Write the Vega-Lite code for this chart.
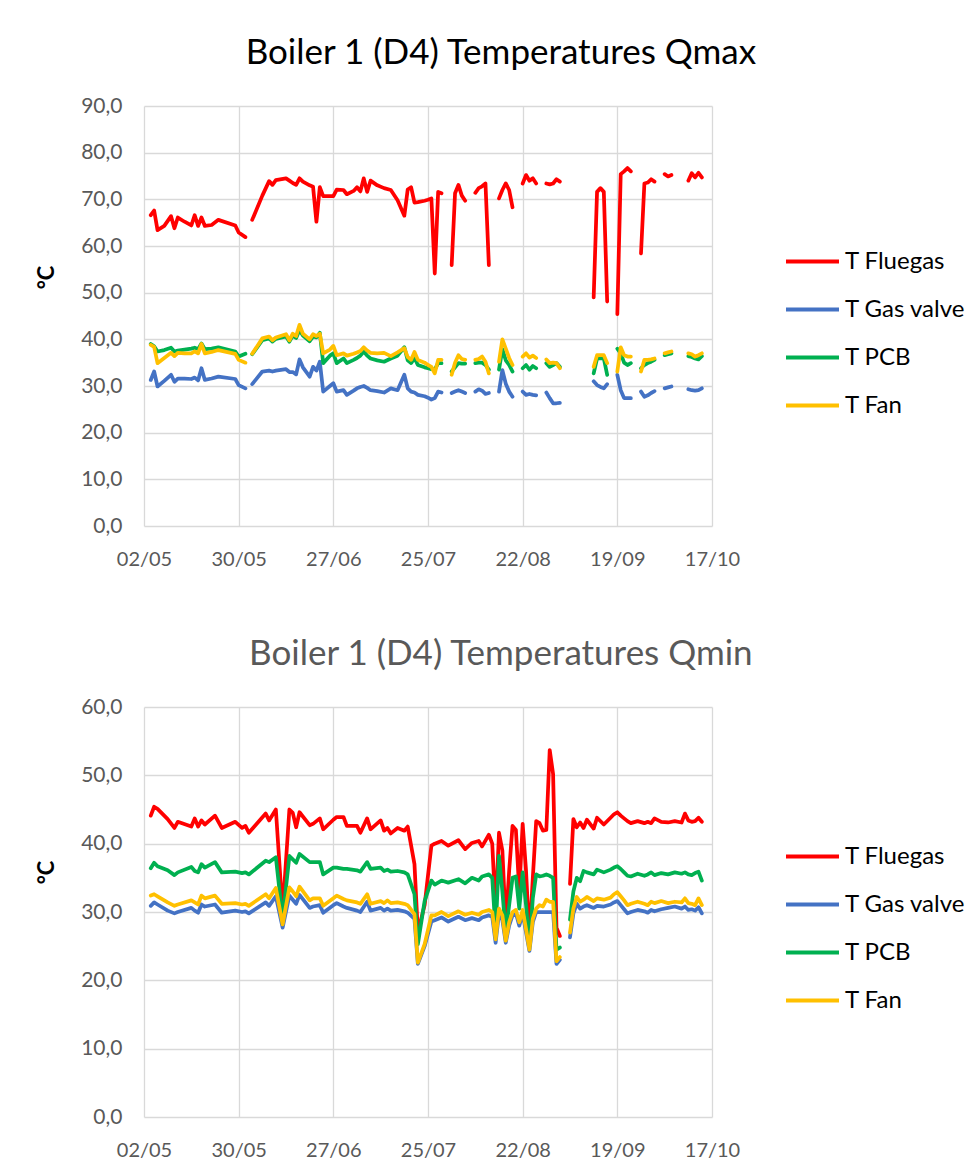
{
  "$schema": "https://vega.github.io/schema/vega-lite/v6.json",
  "background": "white",
  "padding": {"left": 35, "top": 36, "right": 5, "bottom": 5},
  "spacing": 68,
  "datasets": {
    "qmax": [
      {"date": "2022-05-04", "T Fluegas": 66.6, "T Gas valve": 31.3, "T PCB": 39.0, "T Fan": 38.8},
      {"date": "2022-05-05", "T Fluegas": 67.6, "T Gas valve": 33.1, "T PCB": 38.5, "T Fan": 38.4},
      {"date": "2022-05-06", "T Fluegas": 63.4, "T Gas valve": 29.9, "T PCB": 37.4, "T Fan": 34.9},
      {"date": "2022-05-08", "T Fluegas": 64.3, "T Gas valve": 31.1, "T PCB": 37.7, "T Fan": 36.0},
      {"date": "2022-05-10", "T Fluegas": 66.4, "T Gas valve": 32.4, "T PCB": 38.2, "T Fan": 37.1},
      {"date": "2022-05-11", "T Fluegas": 63.8, "T Gas valve": 30.9, "T PCB": 37.4, "T Fan": 36.4},
      {"date": "2022-05-12", "T Fluegas": 66.1, "T Gas valve": 31.6, "T PCB": 37.6, "T Fan": 37.1},
      {"date": "2022-05-14", "T Fluegas": 65.2, "T Gas valve": 31.6, "T PCB": 37.8, "T Fan": 37.0},
      {"date": "2022-05-16", "T Fluegas": 64.4, "T Gas valve": 31.5, "T PCB": 38.0, "T Fan": 37.0},
      {"date": "2022-05-17", "T Fluegas": 66.6, "T Gas valve": 31.8, "T PCB": 38.2, "T Fan": 37.4},
      {"date": "2022-05-18", "T Fluegas": 64.3, "T Gas valve": 31.2, "T PCB": 37.9, "T Fan": 37.0},
      {"date": "2022-05-19", "T Fluegas": 66.1, "T Gas valve": 33.8, "T PCB": 39.1, "T Fan": 39.0},
      {"date": "2022-05-20", "T Fluegas": 64.3, "T Gas valve": 31.3, "T PCB": 37.9, "T Fan": 37.0},
      {"date": "2022-05-22", "T Fluegas": 64.5, "T Gas valve": 31.6, "T PCB": 38.0, "T Fan": 37.3},
      {"date": "2022-05-24", "T Fluegas": 65.6, "T Gas valve": 32.0, "T PCB": 38.3, "T Fan": 37.7},
      {"date": "2022-05-29", "T Fluegas": 64.4, "T Gas valve": 31.5, "T PCB": 37.4, "T Fan": 36.9},
      {"date": "2022-05-30", "T Fluegas": 62.9, "T Gas valve": 30.2, "T PCB": 36.3, "T Fan": 35.6},
      {"date": "2022-06-01", "T Fluegas": 61.9, "T Gas valve": 29.5, "T PCB": 36.9, "T Fan": 35.0},
      {"date": "2022-06-02", "T Fluegas": null, "T Gas valve": null, "T PCB": null, "T Fan": null},
      {"date": "2022-06-03", "T Fluegas": 65.6, "T Gas valve": 30.4, "T PCB": 36.8, "T Fan": 36.9},
      {"date": "2022-06-06", "T Fluegas": 70.8, "T Gas valve": 33.1, "T PCB": 39.8, "T Fan": 40.2},
      {"date": "2022-06-08", "T Fluegas": 73.9, "T Gas valve": 33.3, "T PCB": 40.2, "T Fan": 40.6},
      {"date": "2022-06-09", "T Fluegas": 73.1, "T Gas valve": 33.1, "T PCB": 39.5, "T Fan": 39.8},
      {"date": "2022-06-10", "T Fluegas": 74.1, "T Gas valve": 33.3, "T PCB": 40.1, "T Fan": 40.4},
      {"date": "2022-06-13", "T Fluegas": 74.5, "T Gas valve": 33.6, "T PCB": 40.6, "T Fan": 41.1},
      {"date": "2022-06-14", "T Fluegas": 74.0, "T Gas valve": 33.0, "T PCB": 39.5, "T Fan": 39.8},
      {"date": "2022-06-15", "T Fluegas": 73.5, "T Gas valve": 33.0, "T PCB": 40.8, "T Fan": 41.2},
      {"date": "2022-06-16", "T Fluegas": 73.1, "T Gas valve": 32.5, "T PCB": 40.3, "T Fan": 40.7},
      {"date": "2022-06-17", "T Fluegas": 74.5, "T Gas valve": 35.7, "T PCB": 42.0, "T Fan": 43.1},
      {"date": "2022-06-18", "T Fluegas": 73.8, "T Gas valve": 34.0, "T PCB": 40.8, "T Fan": 41.2},
      {"date": "2022-06-20", "T Fluegas": 73.0, "T Gas valve": 32.0, "T PCB": 39.6, "T Fan": 40.0},
      {"date": "2022-06-21", "T Fluegas": 72.7, "T Gas valve": 34.1, "T PCB": 40.6, "T Fan": 41.1},
      {"date": "2022-06-22", "T Fluegas": 65.2, "T Gas valve": 33.3, "T PCB": 40.4, "T Fan": 40.7},
      {"date": "2022-06-23", "T Fluegas": 72.6, "T Gas valve": 35.2, "T PCB": 41.4, "T Fan": 41.2},
      {"date": "2022-06-24", "T Fluegas": 70.7, "T Gas valve": 28.8, "T PCB": 34.9, "T Fan": 37.0},
      {"date": "2022-06-26", "T Fluegas": 70.7, "T Gas valve": 30.0, "T PCB": 36.5, "T Fan": 37.8},
      {"date": "2022-06-27", "T Fluegas": 70.7, "T Gas valve": 30.6, "T PCB": 37.0, "T Fan": 38.6},
      {"date": "2022-06-28", "T Fluegas": 72.1, "T Gas valve": 28.8, "T PCB": 34.9, "T Fan": 36.6},
      {"date": "2022-06-30", "T Fluegas": 72.0, "T Gas valve": 29.1, "T PCB": 35.9, "T Fan": 37.0},
      {"date": "2022-07-01", "T Fluegas": 71.1, "T Gas valve": 28.1, "T PCB": 34.9, "T Fan": 36.5},
      {"date": "2022-07-03", "T Fluegas": 71.8, "T Gas valve": 29.0, "T PCB": 35.6, "T Fan": 36.9},
      {"date": "2022-07-04", "T Fluegas": 72.6, "T Gas valve": 29.5, "T PCB": 36.0, "T Fan": 37.2},
      {"date": "2022-07-05", "T Fluegas": 71.7, "T Gas valve": 29.8, "T PCB": 36.5, "T Fan": 37.5},
      {"date": "2022-07-06", "T Fluegas": 74.5, "T Gas valve": 30.0, "T PCB": 37.4, "T Fan": 38.3},
      {"date": "2022-07-07", "T Fluegas": 71.6, "T Gas valve": 29.6, "T PCB": 36.5, "T Fan": 37.6},
      {"date": "2022-07-08", "T Fluegas": 74.0, "T Gas valve": 29.1, "T PCB": 35.9, "T Fan": 37.1},
      {"date": "2022-07-10", "T Fluegas": 73.0, "T Gas valve": 28.9, "T PCB": 35.5, "T Fan": 37.0},
      {"date": "2022-07-12", "T Fluegas": 72.4, "T Gas valve": 28.6, "T PCB": 35.2, "T Fan": 37.1},
      {"date": "2022-07-14", "T Fluegas": 72.0, "T Gas valve": 29.5, "T PCB": 35.9, "T Fan": 36.4},
      {"date": "2022-07-16", "T Fluegas": 69.8, "T Gas valve": 29.1, "T PCB": 36.5, "T Fan": 37.2},
      {"date": "2022-07-18", "T Fluegas": 66.5, "T Gas valve": 32.4, "T PCB": 38.3, "T Fan": 38.1},
      {"date": "2022-07-19", "T Fluegas": 72.1, "T Gas valve": 29.5, "T PCB": 35.5, "T Fan": 36.2},
      {"date": "2022-07-20", "T Fluegas": 72.6, "T Gas valve": 28.8, "T PCB": 34.9, "T Fan": 35.6},
      {"date": "2022-07-21", "T Fluegas": 69.3, "T Gas valve": 28.6, "T PCB": 36.0, "T Fan": 37.3},
      {"date": "2022-07-22", "T Fluegas": 69.4, "T Gas valve": 28.1, "T PCB": 34.5, "T Fan": 35.6},
      {"date": "2022-07-24", "T Fluegas": 69.7, "T Gas valve": 27.8, "T PCB": 34.0, "T Fan": 35.0},
      {"date": "2022-07-25", "T Fluegas": 69.9, "T Gas valve": 27.5, "T PCB": 33.8, "T Fan": 34.5},
      {"date": "2022-07-26", "T Fluegas": 70.2, "T Gas valve": 27.1, "T PCB": 33.6, "T Fan": 34.1},
      {"date": "2022-07-27", "T Fluegas": 54.1, "T Gas valve": 27.4, "T PCB": 33.5, "T Fan": 32.7},
      {"date": "2022-07-28", "T Fluegas": 71.6, "T Gas valve": 28.8, "T PCB": 34.9, "T Fan": 35.6},
      {"date": "2022-07-29", "T Fluegas": 71.3, "T Gas valve": 28.6, "T PCB": 34.9, "T Fan": 35.6},
      {"date": "2022-07-30", "T Fluegas": null, "T Gas valve": null, "T PCB": null, "T Fan": null},
      {"date": "2022-08-01", "T Fluegas": 55.9, "T Gas valve": 28.5, "T PCB": 33.1, "T Fan": 32.4},
      {"date": "2022-08-02", "T Fluegas": 71.3, "T Gas valve": 28.8, "T PCB": 34.0, "T Fan": 35.0},
      {"date": "2022-08-03", "T Fluegas": 73.1, "T Gas valve": 29.1, "T PCB": 34.9, "T Fan": 36.6},
      {"date": "2022-08-04", "T Fluegas": 70.8, "T Gas valve": 28.8, "T PCB": 34.8, "T Fan": 35.8},
      {"date": "2022-08-05", "T Fluegas": 69.7, "T Gas valve": 28.5, "T PCB": 34.8, "T Fan": 35.6},
      {"date": "2022-08-06", "T Fluegas": null, "T Gas valve": null, "T PCB": null, "T Fan": null},
      {"date": "2022-08-08", "T Fluegas": 71.4, "T Gas valve": 28.8, "T PCB": 34.9, "T Fan": 35.6},
      {"date": "2022-08-09", "T Fluegas": 72.4, "T Gas valve": 29.3, "T PCB": 35.0, "T Fan": 35.8},
      {"date": "2022-08-10", "T Fluegas": 72.8, "T Gas valve": 29.0, "T PCB": 35.0, "T Fan": 36.3},
      {"date": "2022-08-11", "T Fluegas": 73.4, "T Gas valve": 28.3, "T PCB": 34.5, "T Fan": 35.2},
      {"date": "2022-08-12", "T Fluegas": 55.9, "T Gas valve": 28.5, "T PCB": 33.5, "T Fan": 32.7},
      {"date": "2022-08-13", "T Fluegas": null, "T Gas valve": null, "T PCB": null, "T Fan": null},
      {"date": "2022-08-15", "T Fluegas": 70.2, "T Gas valve": 28.8, "T PCB": 33.5, "T Fan": 35.2},
      {"date": "2022-08-16", "T Fluegas": 72.0, "T Gas valve": 33.4, "T PCB": 37.9, "T Fan": 40.0},
      {"date": "2022-08-17", "T Fluegas": 73.4, "T Gas valve": 30.5, "T PCB": 35.5, "T Fan": 38.0},
      {"date": "2022-08-18", "T Fluegas": 72.0, "T Gas valve": 28.8, "T PCB": 34.5, "T Fan": 36.0},
      {"date": "2022-08-19", "T Fluegas": 68.3, "T Gas valve": 27.7, "T PCB": 33.1, "T Fan": 34.5},
      {"date": "2022-08-20", "T Fluegas": null, "T Gas valve": null, "T PCB": null, "T Fan": null},
      {"date": "2022-08-22", "T Fluegas": 73.4, "T Gas valve": 28.8, "T PCB": 33.8, "T Fan": 36.3},
      {"date": "2022-08-23", "T Fluegas": 75.2, "T Gas valve": 28.1, "T PCB": 34.5, "T Fan": 37.0},
      {"date": "2022-08-24", "T Fluegas": 74.0, "T Gas valve": 28.3, "T PCB": 33.5, "T Fan": 36.1},
      {"date": "2022-08-25", "T Fluegas": 74.5, "T Gas valve": 28.1, "T PCB": 34.3, "T Fan": 36.5},
      {"date": "2022-08-26", "T Fluegas": 73.4, "T Gas valve": 28.0, "T PCB": 33.8, "T Fan": 36.0},
      {"date": "2022-08-27", "T Fluegas": null, "T Gas valve": null, "T PCB": null, "T Fan": null},
      {"date": "2022-08-29", "T Fluegas": 73.4, "T Gas valve": 28.6, "T PCB": 34.9, "T Fan": 35.7},
      {"date": "2022-08-30", "T Fluegas": 73.2, "T Gas valve": 27.4, "T PCB": 34.1, "T Fan": 34.9},
      {"date": "2022-08-31", "T Fluegas": 73.4, "T Gas valve": 26.3, "T PCB": 34.5, "T Fan": 35.0},
      {"date": "2022-09-01", "T Fluegas": 74.3, "T Gas valve": 26.3, "T PCB": 34.9, "T Fan": 34.9},
      {"date": "2022-09-02", "T Fluegas": 73.8, "T Gas valve": 26.4, "T PCB": 34.1, "T Fan": 33.8},
      {"date": "2022-09-03", "T Fluegas": null, "T Gas valve": null, "T PCB": null, "T Fan": null},
      {"date": "2022-09-12", "T Fluegas": 49.0, "T Gas valve": 31.0, "T PCB": 32.7, "T Fan": 34.1},
      {"date": "2022-09-13", "T Fluegas": 71.6, "T Gas valve": 30.2, "T PCB": 35.9, "T Fan": 36.6},
      {"date": "2022-09-14", "T Fluegas": 72.4, "T Gas valve": 29.8, "T PCB": 35.9, "T Fan": 36.6},
      {"date": "2022-09-15", "T Fluegas": 71.6, "T Gas valve": 29.5, "T PCB": 35.9, "T Fan": 36.6},
      {"date": "2022-09-16", "T Fluegas": 48.1, "T Gas valve": 30.4, "T PCB": 32.4, "T Fan": 34.9},
      {"date": "2022-09-17", "T Fluegas": null, "T Gas valve": null, "T PCB": null, "T Fan": null},
      {"date": "2022-09-19", "T Fluegas": 45.4, "T Gas valve": 32.4, "T PCB": 38.0, "T Fan": 33.1},
      {"date": "2022-09-20", "T Fluegas": 75.4, "T Gas valve": 29.1, "T PCB": 37.0, "T Fan": 38.3},
      {"date": "2022-09-21", "T Fluegas": 76.0, "T Gas valve": 27.4, "T PCB": 35.0, "T Fan": 36.6},
      {"date": "2022-09-22", "T Fluegas": 76.7, "T Gas valve": 27.4, "T PCB": 34.5, "T Fan": 36.3},
      {"date": "2022-09-23", "T Fluegas": 76.0, "T Gas valve": 27.4, "T PCB": 34.9, "T Fan": 36.3},
      {"date": "2022-09-24", "T Fluegas": null, "T Gas valve": null, "T PCB": null, "T Fan": null},
      {"date": "2022-09-26", "T Fluegas": 58.4, "T Gas valve": 28.8, "T PCB": 33.8, "T Fan": 33.1},
      {"date": "2022-09-27", "T Fluegas": 73.4, "T Gas valve": 27.7, "T PCB": 34.5, "T Fan": 35.6},
      {"date": "2022-09-28", "T Fluegas": 73.6, "T Gas valve": 28.0, "T PCB": 34.9, "T Fan": 35.6},
      {"date": "2022-09-29", "T Fluegas": 74.3, "T Gas valve": 28.5, "T PCB": 35.2, "T Fan": 35.7},
      {"date": "2022-09-30", "T Fluegas": 73.8, "T Gas valve": 28.9, "T PCB": 35.6, "T Fan": 35.9},
      {"date": "2022-10-01", "T Fluegas": null, "T Gas valve": null, "T PCB": null, "T Fan": null},
      {"date": "2022-10-03", "T Fluegas": 75.4, "T Gas valve": 29.5, "T PCB": 36.6, "T Fan": 37.0},
      {"date": "2022-10-04", "T Fluegas": 74.9, "T Gas valve": 29.7, "T PCB": 36.8, "T Fan": 37.2},
      {"date": "2022-10-05", "T Fluegas": 75.2, "T Gas valve": 29.9, "T PCB": 37.0, "T Fan": 37.4},
      {"date": "2022-10-06", "T Fluegas": null, "T Gas valve": null, "T PCB": null, "T Fan": null},
      {"date": "2022-10-10", "T Fluegas": 74.0, "T Gas valve": 29.3, "T PCB": 36.4, "T Fan": 37.0},
      {"date": "2022-10-11", "T Fluegas": 75.6, "T Gas valve": 29.1, "T PCB": 36.2, "T Fan": 36.8},
      {"date": "2022-10-12", "T Fluegas": 74.7, "T Gas valve": 29.0, "T PCB": 35.9, "T Fan": 36.3},
      {"date": "2022-10-13", "T Fluegas": 75.7, "T Gas valve": 29.1, "T PCB": 35.7, "T Fan": 36.6},
      {"date": "2022-10-14", "T Fluegas": 74.7, "T Gas valve": 29.5, "T PCB": 36.4, "T Fan": 37.0}
    ],
    "qmin": [
      {"date": "2022-05-04", "T Fluegas": 44.1, "T Gas valve": 30.9, "T PCB": 36.4, "T Fan": 32.4},
      {"date": "2022-05-05", "T Fluegas": 45.4, "T Gas valve": 31.4, "T PCB": 37.2, "T Fan": 32.6},
      {"date": "2022-05-06", "T Fluegas": 45.1, "T Gas valve": 31.1, "T PCB": 36.7, "T Fan": 32.3},
      {"date": "2022-05-09", "T Fluegas": 43.6, "T Gas valve": 30.2, "T PCB": 36.1, "T Fan": 31.4},
      {"date": "2022-05-11", "T Fluegas": 42.3, "T Gas valve": 29.8, "T PCB": 35.4, "T Fan": 30.9},
      {"date": "2022-05-12", "T Fluegas": 43.2, "T Gas valve": 30.0, "T PCB": 35.8, "T Fan": 31.1},
      {"date": "2022-05-16", "T Fluegas": 42.5, "T Gas valve": 30.6, "T PCB": 36.6, "T Fan": 31.7},
      {"date": "2022-05-17", "T Fluegas": 43.7, "T Gas valve": 30.2, "T PCB": 36.0, "T Fan": 31.4},
      {"date": "2022-05-18", "T Fluegas": 42.5, "T Gas valve": 29.9, "T PCB": 35.8, "T Fan": 31.1},
      {"date": "2022-05-19", "T Fluegas": 43.4, "T Gas valve": 31.1, "T PCB": 37.0, "T Fan": 32.4},
      {"date": "2022-05-20", "T Fluegas": 42.8, "T Gas valve": 30.8, "T PCB": 36.5, "T Fan": 32.0},
      {"date": "2022-05-23", "T Fluegas": 44.1, "T Gas valve": 31.1, "T PCB": 37.3, "T Fan": 32.4},
      {"date": "2022-05-25", "T Fluegas": 42.3, "T Gas valve": 29.9, "T PCB": 35.8, "T Fan": 31.2},
      {"date": "2022-05-29", "T Fluegas": 43.2, "T Gas valve": 30.2, "T PCB": 35.9, "T Fan": 31.3},
      {"date": "2022-05-31", "T Fluegas": 42.3, "T Gas valve": 30.0, "T PCB": 35.7, "T Fan": 31.1},
      {"date": "2022-06-01", "T Fluegas": 42.6, "T Gas valve": 30.1, "T PCB": 35.8, "T Fan": 31.2},
      {"date": "2022-06-02", "T Fluegas": 41.6, "T Gas valve": 29.8, "T PCB": 35.5, "T Fan": 30.9},
      {"date": "2022-06-07", "T Fluegas": 44.4, "T Gas valve": 31.4, "T PCB": 37.5, "T Fan": 32.6},
      {"date": "2022-06-08", "T Fluegas": 43.4, "T Gas valve": 30.9, "T PCB": 37.3, "T Fan": 32.0},
      {"date": "2022-06-10", "T Fluegas": 45.0, "T Gas valve": 32.3, "T PCB": 38.0, "T Fan": 33.5},
      {"date": "2022-06-12", "T Fluegas": 30.0, "T Gas valve": 27.7, "T PCB": 29.0, "T Fan": 28.2},
      {"date": "2022-06-14", "T Fluegas": 45.0, "T Gas valve": 32.4, "T PCB": 38.2, "T Fan": 33.6},
      {"date": "2022-06-15", "T Fluegas": 44.5, "T Gas valve": 31.8, "T PCB": 37.7, "T Fan": 33.0},
      {"date": "2022-06-16", "T Fluegas": 42.4, "T Gas valve": 31.2, "T PCB": 37.2, "T Fan": 32.3},
      {"date": "2022-06-17", "T Fluegas": 44.6, "T Gas valve": 32.5, "T PCB": 38.5, "T Fan": 33.7},
      {"date": "2022-06-20", "T Fluegas": 42.7, "T Gas valve": 30.6, "T PCB": 37.3, "T Fan": 31.7},
      {"date": "2022-06-21", "T Fluegas": 42.9, "T Gas valve": 30.8, "T PCB": 37.3, "T Fan": 32.0},
      {"date": "2022-06-23", "T Fluegas": 43.7, "T Gas valve": 31.0, "T PCB": 37.3, "T Fan": 32.0},
      {"date": "2022-06-24", "T Fluegas": 42.1, "T Gas valve": 29.9, "T PCB": 35.5, "T Fan": 30.9},
      {"date": "2022-06-27", "T Fluegas": 43.5, "T Gas valve": 31.0, "T PCB": 36.5, "T Fan": 32.0},
      {"date": "2022-06-28", "T Fluegas": 43.9, "T Gas valve": 31.3, "T PCB": 36.5, "T Fan": 32.4},
      {"date": "2022-06-30", "T Fluegas": 43.9, "T Gas valve": 30.8, "T PCB": 36.3, "T Fan": 31.9},
      {"date": "2022-07-01", "T Fluegas": 42.6, "T Gas valve": 30.6, "T PCB": 36.3, "T Fan": 31.7},
      {"date": "2022-07-04", "T Fluegas": 42.6, "T Gas valve": 30.2, "T PCB": 36.1, "T Fan": 31.4},
      {"date": "2022-07-05", "T Fluegas": 41.6, "T Gas valve": 30.0, "T PCB": 35.9, "T Fan": 31.2},
      {"date": "2022-07-07", "T Fluegas": 43.7, "T Gas valve": 31.5, "T PCB": 37.3, "T Fan": 32.6},
      {"date": "2022-07-08", "T Fluegas": 42.1, "T Gas valve": 30.2, "T PCB": 36.3, "T Fan": 31.2},
      {"date": "2022-07-11", "T Fluegas": 43.4, "T Gas valve": 30.6, "T PCB": 36.5, "T Fan": 31.6},
      {"date": "2022-07-12", "T Fluegas": 41.9, "T Gas valve": 30.2, "T PCB": 36.0, "T Fan": 31.3},
      {"date": "2022-07-13", "T Fluegas": 42.3, "T Gas valve": 30.5, "T PCB": 36.2, "T Fan": 31.7},
      {"date": "2022-07-14", "T Fluegas": 41.5, "T Gas valve": 30.2, "T PCB": 35.9, "T Fan": 31.3},
      {"date": "2022-07-16", "T Fluegas": 42.3, "T Gas valve": 30.3, "T PCB": 36.0, "T Fan": 31.4},
      {"date": "2022-07-18", "T Fluegas": 41.9, "T Gas valve": 30.1, "T PCB": 35.8, "T Fan": 31.2},
      {"date": "2022-07-19", "T Fluegas": 42.5, "T Gas valve": 29.9, "T PCB": 35.5, "T Fan": 31.0},
      {"date": "2022-07-21", "T Fluegas": 37.0, "T Gas valve": 29.0, "T PCB": 32.6, "T Fan": 29.7},
      {"date": "2022-07-22", "T Fluegas": 27.0, "T Gas valve": 22.4, "T PCB": 25.3, "T Fan": 22.6},
      {"date": "2022-07-24", "T Fluegas": 31.0, "T Gas valve": 25.0, "T PCB": 31.6, "T Fan": 25.3},
      {"date": "2022-07-26", "T Fluegas": 39.7, "T Gas valve": 28.6, "T PCB": 34.6, "T Fan": 29.5},
      {"date": "2022-07-27", "T Fluegas": 40.0, "T Gas valve": 28.8, "T PCB": 34.0, "T Fan": 29.5},
      {"date": "2022-07-29", "T Fluegas": 40.4, "T Gas valve": 29.2, "T PCB": 34.6, "T Fan": 30.0},
      {"date": "2022-07-31", "T Fluegas": 39.7, "T Gas valve": 28.6, "T PCB": 34.3, "T Fan": 29.4},
      {"date": "2022-08-03", "T Fluegas": 40.5, "T Gas valve": 29.3, "T PCB": 34.8, "T Fan": 30.1},
      {"date": "2022-08-05", "T Fluegas": 39.2, "T Gas valve": 28.8, "T PCB": 34.2, "T Fan": 29.6},
      {"date": "2022-08-07", "T Fluegas": 40.1, "T Gas valve": 29.1, "T PCB": 35.0, "T Fan": 29.9},
      {"date": "2022-08-09", "T Fluegas": 40.4, "T Gas valve": 28.8, "T PCB": 34.6, "T Fan": 29.6},
      {"date": "2022-08-10", "T Fluegas": 39.6, "T Gas valve": 29.2, "T PCB": 35.2, "T Fan": 30.0},
      {"date": "2022-08-12", "T Fluegas": 41.3, "T Gas valve": 29.5, "T PCB": 35.5, "T Fan": 30.3},
      {"date": "2022-08-13", "T Fluegas": 40.0, "T Gas valve": 29.3, "T PCB": 35.0, "T Fan": 30.0},
      {"date": "2022-08-14", "T Fluegas": 30.0, "T Gas valve": 25.5, "T PCB": 27.0, "T Fan": 26.0},
      {"date": "2022-08-15", "T Fluegas": 41.6, "T Gas valve": 29.8, "T PCB": 38.2, "T Fan": 30.5},
      {"date": "2022-08-16", "T Fluegas": 39.0, "T Gas valve": 28.8, "T PCB": 33.0, "T Fan": 29.5},
      {"date": "2022-08-17", "T Fluegas": 28.0, "T Gas valve": 25.5, "T PCB": 27.0, "T Fan": 25.8},
      {"date": "2022-08-18", "T Fluegas": 36.0, "T Gas valve": 28.0, "T PCB": 31.0, "T Fan": 28.5},
      {"date": "2022-08-19", "T Fluegas": 42.6, "T Gas valve": 29.5, "T PCB": 35.0, "T Fan": 30.0},
      {"date": "2022-08-20", "T Fluegas": 42.0, "T Gas valve": 29.8, "T PCB": 35.2, "T Fan": 30.3},
      {"date": "2022-08-21", "T Fluegas": 33.0, "T Gas valve": 28.0, "T PCB": 30.5, "T Fan": 28.5},
      {"date": "2022-08-22", "T Fluegas": 42.9, "T Gas valve": 29.8, "T PCB": 35.8, "T Fan": 30.3},
      {"date": "2022-08-23", "T Fluegas": 36.0, "T Gas valve": 27.0, "T PCB": 31.0, "T Fan": 27.5},
      {"date": "2022-08-24", "T Fluegas": 26.0, "T Gas valve": 24.3, "T PCB": 25.0, "T Fan": 24.5},
      {"date": "2022-08-25", "T Fluegas": 35.0, "T Gas valve": 28.5, "T PCB": 32.0, "T Fan": 29.0},
      {"date": "2022-08-26", "T Fluegas": 43.3, "T Gas valve": 30.0, "T PCB": 35.5, "T Fan": 30.5},
      {"date": "2022-08-27", "T Fluegas": 43.0, "T Gas valve": 30.0, "T PCB": 35.2, "T Fan": 31.0},
      {"date": "2022-08-28", "T Fluegas": 41.9, "T Gas valve": 30.0, "T PCB": 35.3, "T Fan": 30.8},
      {"date": "2022-08-29", "T Fluegas": 42.0, "T Gas valve": 30.0, "T PCB": 35.5, "T Fan": 31.8},
      {"date": "2022-08-30", "T Fluegas": 53.7, "T Gas valve": 30.0, "T PCB": 35.3, "T Fan": 31.5},
      {"date": "2022-08-31", "T Fluegas": 50.2, "T Gas valve": 30.0, "T PCB": 35.0, "T Fan": 31.5},
      {"date": "2022-09-01", "T Fluegas": 27.7, "T Gas valve": 22.4, "T PCB": 24.5, "T Fan": 22.8},
      {"date": "2022-09-02", "T Fluegas": 26.5, "T Gas valve": 23.0, "T PCB": 24.8, "T Fan": 23.4},
      {"date": "2022-09-03", "T Fluegas": null, "T Gas valve": null, "T PCB": null, "T Fan": null},
      {"date": "2022-09-05", "T Fluegas": 34.1, "T Gas valve": 26.3, "T PCB": 28.9, "T Fan": 27.0},
      {"date": "2022-09-06", "T Fluegas": 43.6, "T Gas valve": 29.8, "T PCB": 33.0, "T Fan": 30.5},
      {"date": "2022-09-07", "T Fluegas": 42.4, "T Gas valve": 31.2, "T PCB": 35.0, "T Fan": 32.2},
      {"date": "2022-09-08", "T Fluegas": 43.1, "T Gas valve": 30.5, "T PCB": 34.5, "T Fan": 31.5},
      {"date": "2022-09-09", "T Fluegas": 42.3, "T Gas valve": 30.8, "T PCB": 36.0, "T Fan": 31.8},
      {"date": "2022-09-10", "T Fluegas": 43.5, "T Gas valve": 31.0, "T PCB": 35.8, "T Fan": 32.2},
      {"date": "2022-09-12", "T Fluegas": 42.2, "T Gas valve": 30.6, "T PCB": 35.5, "T Fan": 31.6},
      {"date": "2022-09-13", "T Fluegas": 43.8, "T Gas valve": 30.9, "T PCB": 36.2, "T Fan": 32.0},
      {"date": "2022-09-15", "T Fluegas": 42.8, "T Gas valve": 30.8, "T PCB": 35.8, "T Fan": 31.8},
      {"date": "2022-09-17", "T Fluegas": 43.8, "T Gas valve": 31.1, "T PCB": 36.2, "T Fan": 32.1},
      {"date": "2022-09-18", "T Fluegas": 44.3, "T Gas valve": 31.4, "T PCB": 36.5, "T Fan": 32.6},
      {"date": "2022-09-19", "T Fluegas": 44.6, "T Gas valve": 31.6, "T PCB": 36.7, "T Fan": 32.9},
      {"date": "2022-09-20", "T Fluegas": 44.1, "T Gas valve": 31.0, "T PCB": 36.3, "T Fan": 32.3},
      {"date": "2022-09-21", "T Fluegas": 43.7, "T Gas valve": 30.4, "T PCB": 35.8, "T Fan": 31.7},
      {"date": "2022-09-22", "T Fluegas": 43.3, "T Gas valve": 29.8, "T PCB": 35.3, "T Fan": 31.0},
      {"date": "2022-09-23", "T Fluegas": 43.0, "T Gas valve": 30.0, "T PCB": 35.2, "T Fan": 31.2},
      {"date": "2022-09-25", "T Fluegas": 43.3, "T Gas valve": 30.3, "T PCB": 35.6, "T Fan": 31.5},
      {"date": "2022-09-27", "T Fluegas": 43.0, "T Gas valve": 30.1, "T PCB": 35.3, "T Fan": 31.2},
      {"date": "2022-09-28", "T Fluegas": 43.2, "T Gas valve": 29.9, "T PCB": 35.5, "T Fan": 31.0},
      {"date": "2022-09-29", "T Fluegas": 43.0, "T Gas valve": 30.3, "T PCB": 35.8, "T Fan": 31.5},
      {"date": "2022-09-30", "T Fluegas": 43.7, "T Gas valve": 30.1, "T PCB": 35.4, "T Fan": 31.3},
      {"date": "2022-10-02", "T Fluegas": 43.2, "T Gas valve": 30.4, "T PCB": 35.7, "T Fan": 31.6},
      {"date": "2022-10-04", "T Fluegas": 43.1, "T Gas valve": 30.6, "T PCB": 35.5, "T Fan": 31.3},
      {"date": "2022-10-06", "T Fluegas": 43.3, "T Gas valve": 30.8, "T PCB": 35.8, "T Fan": 31.5},
      {"date": "2022-10-08", "T Fluegas": 43.1, "T Gas valve": 30.5, "T PCB": 35.6, "T Fan": 31.4},
      {"date": "2022-10-09", "T Fluegas": 44.4, "T Gas valve": 30.8, "T PCB": 35.8, "T Fan": 32.0},
      {"date": "2022-10-10", "T Fluegas": 43.4, "T Gas valve": 30.3, "T PCB": 35.5, "T Fan": 31.3},
      {"date": "2022-10-11", "T Fluegas": 43.2, "T Gas valve": 30.4, "T PCB": 35.4, "T Fan": 31.2},
      {"date": "2022-10-12", "T Fluegas": 43.3, "T Gas valve": 30.2, "T PCB": 35.7, "T Fan": 31.0},
      {"date": "2022-10-13", "T Fluegas": 43.8, "T Gas valve": 30.7, "T PCB": 35.9, "T Fan": 32.0},
      {"date": "2022-10-14", "T Fluegas": 43.2, "T Gas valve": 29.8, "T PCB": 34.6, "T Fan": 31.0}
    ]
  },
  "vconcat": [
    {
      "width": 568,
      "height": 420,
      "title": {"text": "Boiler 1 (D4) Temperatures Qmax", "color": "#000000", "fontSize": 35, "font": "Lato", "fontWeight": "normal", "anchor": "middle", "frame": "bounds", "offset": 24},
      "data": {"name": "qmax"},
      "transform": [{"fold": ["T Fluegas", "T Gas valve", "T PCB", "T Fan"], "as": ["series", "temp"]}],
      "mark": {"type": "line", "strokeWidth": 3.75, "strokeJoin": "round", "strokeCap": "round", "invalid": "break-paths-show-domains"},
      "encoding": {
        "x": {
          "field": "date", "type": "temporal",
          "scale": {"type": "utc", "domain": [{"year": 2022, "month": 5, "date": 2, "utc": true}, {"year": 2022, "month": 10, "date": 17, "utc": true}]},
          "axis": {
            "title": null,
            "values": [
              {"year": 2022, "month": 5, "date": 2, "utc": true},
              {"year": 2022, "month": 5, "date": 30, "utc": true},
              {"year": 2022, "month": 6, "date": 27, "utc": true},
              {"year": 2022, "month": 7, "date": 25, "utc": true},
              {"year": 2022, "month": 8, "date": 22, "utc": true},
              {"year": 2022, "month": 9, "date": 19, "utc": true},
              {"year": 2022, "month": 10, "date": 17, "utc": true}
            ],
            "labelExpr": "utcFormat(datum.value, '%d/%m')"
          }
        },
        "y": {
          "field": "temp", "type": "quantitative",
          "scale": {"domain": [0, 90]},
          "axis": {"title": "°C", "values": [0, 10, 20, 30, 40, 50, 60, 70, 80, 90], "labelExpr": "replace(format(datum.value, '.1f'), '.', ',')", "titleY": 171}
        },
        "color": {
          "field": "series", "type": "nominal",
          "scale": {"domain": ["T Fluegas", "T Gas valve", "T PCB", "T Fan"], "range": ["#FF0000", "#4472C4", "#00B050", "#FFC000"]},
          "legend": {"orient": "none", "legendX": 640, "legendY": 127}
        }
      }
    },
    {
      "width": 568,
      "height": 410,
      "title": {"text": "Boiler 1 (D4) Temperatures Qmin", "color": "#595959", "fontSize": 35, "font": "Lato", "fontWeight": "normal", "anchor": "middle", "frame": "bounds", "offset": 24},
      "data": {"name": "qmin"},
      "transform": [{"fold": ["T Fluegas", "T Gas valve", "T PCB", "T Fan"], "as": ["series", "temp"]}],
      "mark": {"type": "line", "strokeWidth": 3.75, "strokeJoin": "round", "strokeCap": "round", "invalid": "break-paths-show-domains"},
      "encoding": {
        "x": {
          "field": "date", "type": "temporal",
          "scale": {"type": "utc", "domain": [{"year": 2022, "month": 5, "date": 2, "utc": true}, {"year": 2022, "month": 10, "date": 17, "utc": true}]},
          "axis": {
            "title": null,
            "values": [
              {"year": 2022, "month": 5, "date": 2, "utc": true},
              {"year": 2022, "month": 5, "date": 30, "utc": true},
              {"year": 2022, "month": 6, "date": 27, "utc": true},
              {"year": 2022, "month": 7, "date": 25, "utc": true},
              {"year": 2022, "month": 8, "date": 22, "utc": true},
              {"year": 2022, "month": 9, "date": 19, "utc": true},
              {"year": 2022, "month": 10, "date": 17, "utc": true}
            ],
            "labelExpr": "utcFormat(datum.value, '%d/%m')"
          }
        },
        "y": {
          "field": "temp", "type": "quantitative",
          "scale": {"domain": [0, 60]},
          "axis": {"title": "°C", "values": [0, 10, 20, 30, 40, 50, 60], "labelExpr": "replace(format(datum.value, '.1f'), '.', ',')", "titleY": 165}
        },
        "color": {
          "field": "series", "type": "nominal",
          "scale": {"domain": ["T Fluegas", "T Gas valve", "T PCB", "T Fan"], "range": ["#FF0000", "#4472C4", "#00B050", "#FFC000"]},
          "legend": {"orient": "none", "legendX": 640, "legendY": 121}
        }
      }
    }
  ],
  "resolve": {"scale": {"color": "independent", "x": "independent", "y": "independent"}, "legend": {"color": "independent"}},
  "config": {
    "font": "Lato",
    "view": {"stroke": null},
    "axis": {
      "grid": true, "gridColor": "#d9d9d9", "gridWidth": 1.3,
      "domain": false, "ticks": false,
      "labelFont": "Lato", "labelFontSize": 20, "labelColor": "#595959"
    },
    "axisX": {"labelPadding": 23, "labelFontSize": 20, "labelFlush": false},
    "axisY": {"labelPadding": 22, "labelFontSize": 21, "titleFont": "Lato", "titleFontSize": 22, "titleFontWeight": "bold", "titleColor": "#000000", "titlePadding": 22},
    "legend": {
      "title": null, "labelFont": "Lato", "labelFontSize": 24, "labelColor": "#000000",
      "symbolType": "stroke", "symbolStrokeWidth": 4, "symbolSize": 2809, "rowPadding": 7, "labelOffset": 4
    }
  }
}
